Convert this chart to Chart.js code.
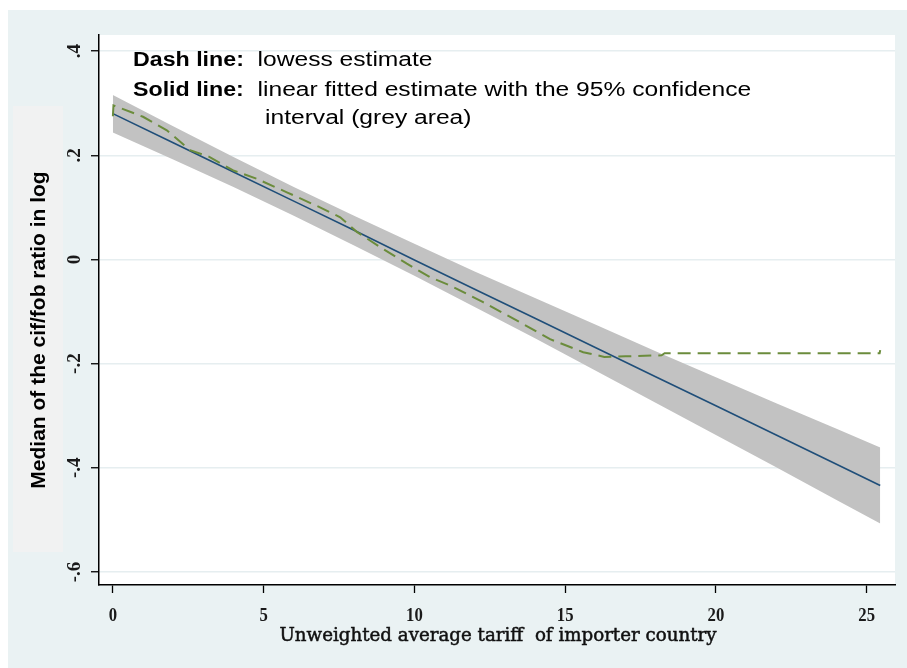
<!DOCTYPE html>
<html><head><meta charset="utf-8">
<script src="https://cdn.jsdelivr.net/npm/chart.js@4.4.1/dist/chart.umd.min.js"></script>
<style>html,body{margin:0;padding:0;background:#fff;}canvas{display:block;}</style>
</head><body>
<canvas id="c" width="907" height="668"></canvas>
<script>
const xTicks = [0, 5, 10, 15, 20, 25];
const xTickLabels = ['0', '5', '10', '15', '20', '25'];
const yTicks = [-0.6, -0.4, -0.2, 0, 0.2, 0.4];
const yTickLabels = ['-.6', '-.4', '-.2', '0', '.2', '.4'];

const bandX     = [0, 2, 4, 6, 8, 10, 12, 14, 16, 18, 20, 22, 24, 25.45];
const bandLower = [0.244, 0.192, 0.139, 0.084, 0.027, -0.031, -0.091, -0.151, -0.213, -0.275, -0.337, -0.399, -0.462, -0.507];
const bandUpper = [0.316, 0.256, 0.197, 0.139, 0.084, 0.030, -0.023, -0.074, -0.125, -0.176, -0.226, -0.276, -0.325, -0.361];
const fitY      = [0.280, 0.224, 0.168, 0.112, 0.056, -0.001, -0.057, -0.113, -0.169, -0.225, -0.281, -0.337, -0.393, -0.434];

const lowessX = [0, 0.02, 0.24, 1.0, 1.79, 2.56, 3.2, 3.99, 4.77, 5.77, 6.87, 7.54, 8.09, 8.86, 9.75, 10.52, 11.19, 12.28, 13.39, 14.5, 15.6, 16.3, 17.0, 18.2, 18.3, 20, 22, 24, 25.43, 25.45];
const lowessY = [0.275, 0.296, 0.291, 0.274, 0.248, 0.210, 0.197, 0.171, 0.155, 0.129, 0.100, 0.081, 0.053, 0.024, -0.008, -0.034, -0.050, -0.082, -0.117, -0.153, -0.178, -0.187, -0.186, -0.184, -0.180, -0.180, -0.180, -0.180, -0.180, -0.174];

const xTitle = 'Unweighted average tariff  of importer country';
const yTitle = 'Median of the cif/fob ratio in log';
const noteLines = [
  ['Dash line:', '  lowess estimate'],
  ['Solid line:', '  linear fitted estimate with the 95% confidence'],
  ['', 'interval (grey area)']
];

const pts = (xs, ys) => xs.map((x, i) => ({x: x, y: ys[i]}));

function scaledText(ctx, text, x, y, sx, stroke) {
  ctx.save();
  ctx.translate(x, y);
  ctx.scale(sx, 1);
  ctx.fillText(text, 0, 0);
  if (stroke) { ctx.lineWidth = stroke; ctx.strokeStyle = ctx.fillStyle; ctx.strokeText(text, 0, 0); }
  ctx.restore();
  return ctx.measureText(text).width * sx;
}

const deco = {
  id: 'deco',
  beforeDraw(chart) {
    const {ctx, chartArea: a} = chart;
    ctx.save();
    ctx.fillStyle = '#ffffff'; ctx.fillRect(0, 0, 907, 668);
    ctx.fillStyle = '#eaf2f3'; ctx.fillRect(8, 10, 899, 658);
    ctx.fillStyle = '#f1f2f2'; ctx.fillRect(13, 106, 50, 446);
    ctx.fillStyle = '#ffffff'; ctx.fillRect(a.left, a.top, a.right - a.left, a.bottom - a.top);
    ctx.restore();
  },
  afterDraw(chart) {
    const {ctx} = chart;
    const xs = chart.scales.x, ys = chart.scales.y;
    ctx.save();
    // y tick labels (rotated)
    ctx.fillStyle = '#1a1a1a';
    ctx.font = 'bold 19px "Liberation Serif"';
    ctx.textAlign = 'center'; ctx.textBaseline = 'alphabetic';
    yTicks.forEach((v, i) => {
      ctx.save();
      ctx.translate(80, ys.getPixelForValue(v));
      ctx.rotate(-Math.PI / 2);
      ctx.fillText(yTickLabels[i], 0, 0);
      ctx.restore();
    });
    // x tick labels
    ctx.font = 'bold 19px "Liberation Serif"';
    xTicks.forEach((v, i) => {
      scaledText(ctx, xTickLabels[i], xs.getPixelForValue(v), 621, 0.88);
    });
    // x title
    ctx.font = '18px "DejaVu Serif"';
    const w = ctx.measureText(xTitle).width;
    ctx.fillStyle = '#111';
    scaledText(ctx, xTitle, 498, 641, 437 / w, 0.5);
    // y title
    ctx.save();
    ctx.translate(45, 330);
    ctx.rotate(-Math.PI / 2);
    ctx.font = 'bold 21px "Liberation Sans"';
    ctx.fillStyle = '#000';
    ctx.textAlign = 'center';
    ctx.textBaseline = 'alphabetic';
    ctx.fillText(yTitle, 0, 0);
    ctx.restore();
    // note
    ctx.textAlign = 'left'; ctx.textBaseline = 'alphabetic';
    ctx.fillStyle = '#000';
    const bases = [66, 96, 124];
    noteLines.forEach((ln, i) => {
      let x = 133;
      if (ln[0]) {
        ctx.font = 'bold 20px "Liberation Sans"';
        x += scaledText(ctx, ln[0], x, bases[i], 1.16);
      } else {
        x = 265;
      }
      ctx.font = '20px "Liberation Sans"';
      scaledText(ctx, ln[1], x, bases[i], 1.23);
    });
    ctx.restore();
  }
};

new Chart(document.getElementById('c'), {
  type: 'line',
  data: {
    datasets: [
      {data: pts(bandX, bandLower), borderWidth: 0, borderColor: 'rgba(0,0,0,0)', pointRadius: 0, fill: false, order: 4},
      {data: pts(bandX, bandUpper), borderWidth: 0, borderColor: 'rgba(0,0,0,0)', pointRadius: 0, fill: 0, backgroundColor: '#c2c2c2', order: 3},
      {data: pts(bandX, fitY), borderColor: '#1f4e79', borderWidth: 1.6, pointRadius: 0, fill: false, order: 2},
      {data: pts(lowessX, lowessY), borderColor: '#6b8c3c', borderWidth: 2, borderDash: [13, 7], pointRadius: 0, fill: false, order: 1}
    ]
  },
  options: {
    responsive: false,
    animation: false,
    devicePixelRatio: 1,
    layout: {padding: {top: 35, right: 12, left: 0, bottom: 0}},
    elements: {line: {tension: 0}},
    plugins: {legend: {display: false}, tooltip: {enabled: false}, title: {display: false}},
    scales: {
      x: {
        type: 'linear', min: -0.46, max: 25.94,
        afterBuildTicks: s => { s.ticks = xTicks.map(v => ({value: v})); },
        afterFit: s => { s.height = 83; },
        ticks: {display: false},
        grid: {drawOnChartArea: false, drawTicks: true, tickLength: 8, tickColor: '#000', tickWidth: 1.3},
        border: {display: true, color: '#000', width: 1.5}
      },
      y: {
        type: 'linear', min: -0.625, max: 0.431,
        afterBuildTicks: s => { s.ticks = yTicks.map(v => ({value: v})); },
        afterFit: s => { s.width = 99; },
        ticks: {display: false},
        grid: {color: '#e6eef0', lineWidth: 1.5, drawTicks: true, tickLength: 8, tickColor: '#000', tickWidth: 1.3},
        border: {display: true, color: '#000', width: 1.5}
      }
    }
  },
  plugins: [deco]
});
</script>
</body></html>
